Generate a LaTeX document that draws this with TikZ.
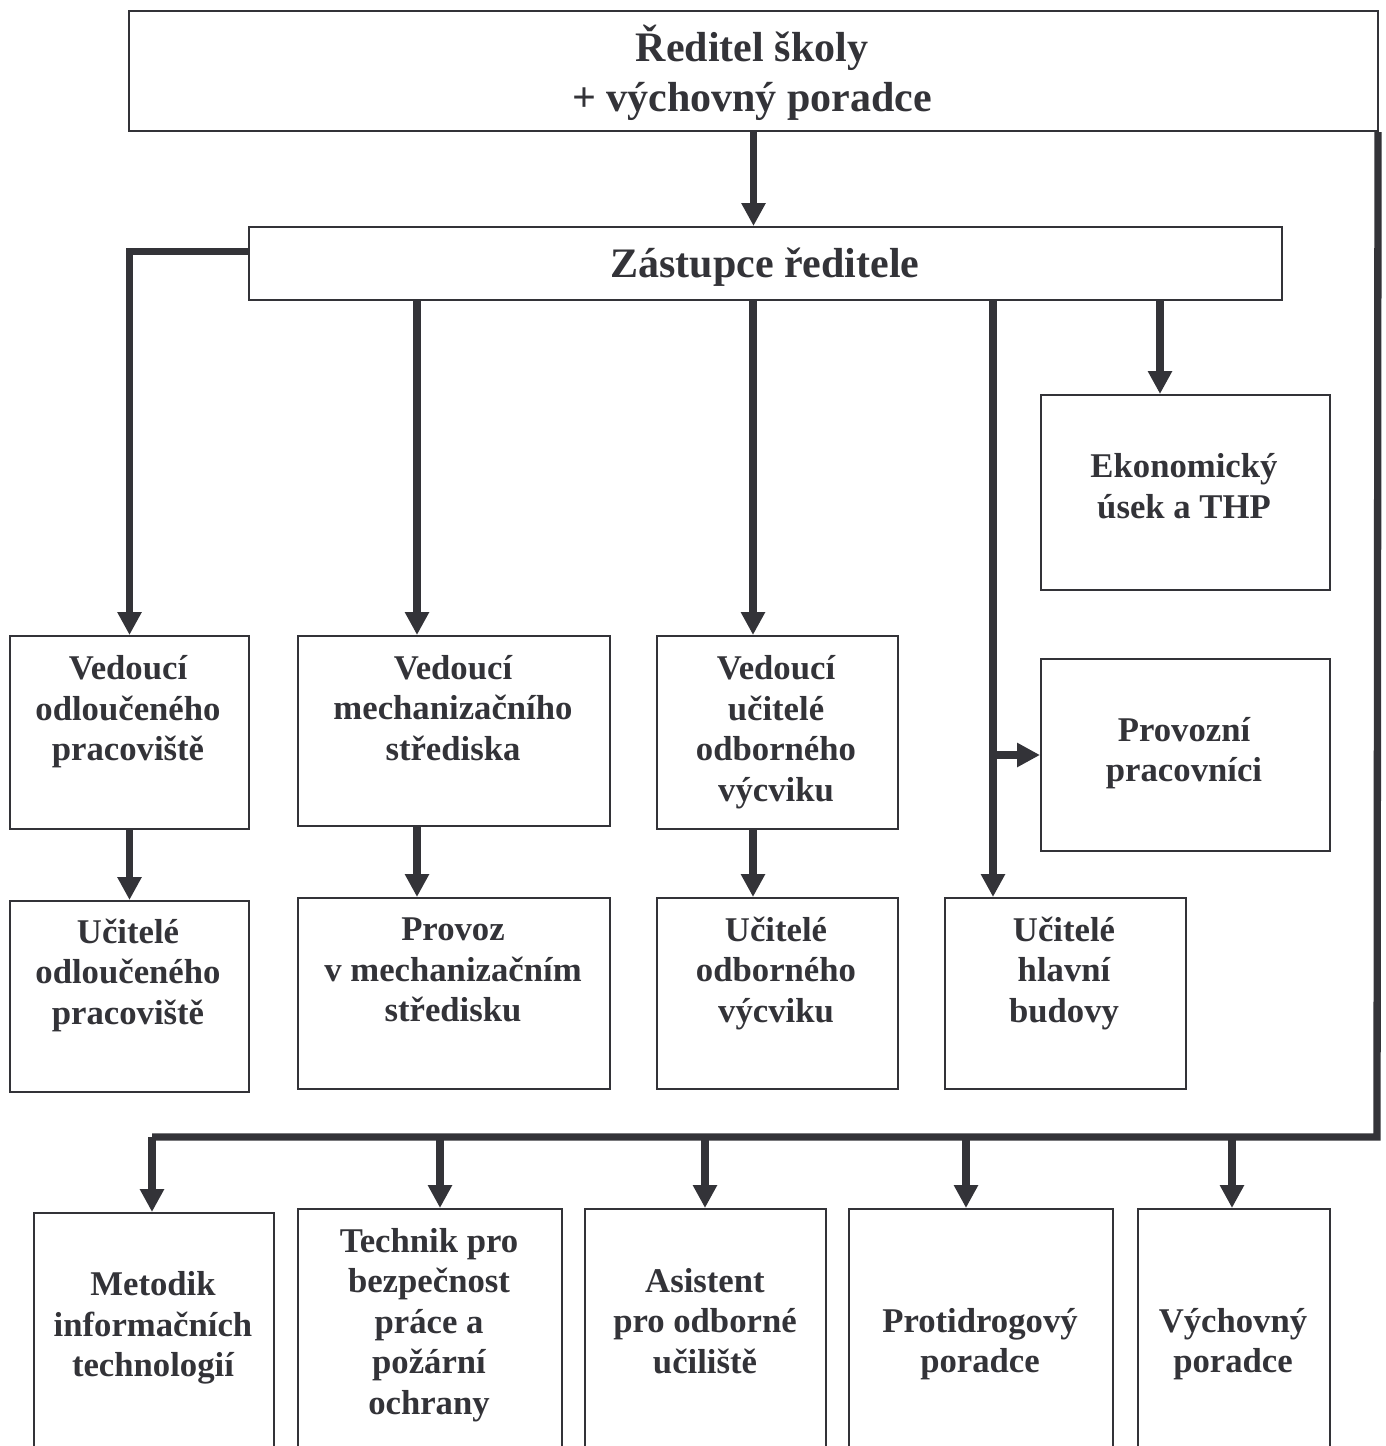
\documentclass[tikz,border=0pt]{standalone}
\usepackage{fontspec}
\setmainfont{Liberation Serif}
\usetikzlibrary{arrows.meta}
\definecolor{ink}{RGB}{51,51,56}
\begin{document}
\begin{tikzpicture}[x=1pt,y=-1pt,
  box/.style={draw=ink, line width=2pt, rectangle, inner sep=0pt, anchor=north west},
  txt/.style={text=ink, align=center, inner sep=0pt,
    font=\fontsize{34.7}{40.5}\selectfont\bfseries},
  head/.style={txt, font=\fontsize{42}{50}\selectfont\bfseries},
  link/.style={draw=ink, line width=7.3pt},
  arr/.style={link, -{Triangle[width=23pt,length=23pt]}}]
\useasboundingbox (0,0) rectangle (1386,1446);
\clip (0,0) rectangle (1386,1446);

% boxes
\node[box, minimum width=1249pt, minimum height=120pt] (top)  at (128,10)  {};
\node[box, minimum width=1033pt, minimum height=73pt]  (zast) at (248,226) {};
\node[box, minimum width=239pt, minimum height=193pt]  (v1)   at (9,635)   {};
\node[box, minimum width=312pt, minimum height=190pt]  (v2)   at (297,635) {};
\node[box, minimum width=241pt, minimum height=193pt]  (v3)   at (656,635) {};
\node[box, minimum width=289pt, minimum height=195pt]  (eko)  at (1040,394) {};
\node[box, minimum width=289pt, minimum height=192pt]  (prov) at (1040,658) {};
\node[box, minimum width=239pt, minimum height=191pt]  (u1)   at (9,900)   {};
\node[box, minimum width=312pt, minimum height=191pt]  (u2)   at (297,897) {};
\node[box, minimum width=241pt, minimum height=191pt]  (u3)   at (656,897) {};
\node[box, minimum width=241pt, minimum height=191pt]  (u4)   at (944,897) {};
\node[box, minimum width=240pt, minimum height=260pt]  (b1)   at (33,1212) {};
\node[box, minimum width=264pt, minimum height=260pt]  (b2)   at (297,1208) {};
\node[box, minimum width=241pt, minimum height=260pt]  (b3)   at (584,1208) {};
\node[box, minimum width=264pt, minimum height=260pt]  (b4)   at (848,1208) {};
\node[box, minimum width=192pt, minimum height=260pt]  (b5)   at (1137,1208) {};

% texts
\node[head] (ttop)  at (752,73)  {Ředitel školy\\+ výchovný poradce};
\node[head] (tzast) at (765,267) {Zástupce ředitele};
\node[txt] (tv1)  at (128,712) {Vedoucí\\odloučeného\\pracoviště};
\node[txt] (tv2)  at (453,708) {Vedoucí\\mechanizačního\\střediska};
\node[txt] (tv3)  at (776,732) {Vedoucí\\učitelé\\odborného\\výcviku};
\node[txt] (teko) at (1184,486) {Ekonomický\\úsek a THP};
\node[txt] (tprov) at (1184,753) {Provozní\\pracovníci};
\node[txt] (tu1)  at (128,975) {Učitelé\\odloučeného\\pracoviště};
\node[txt] (tu2)  at (453,970) {Provoz\\v mechanizačním\\středisku};
\node[txt] (tu3)  at (776,973) {Učitelé\\odborného\\výcviku};
\node[txt] (tu4)  at (1064,973) {Učitelé\\hlavní\\budovy};
\node[txt] (tb1)  at (153,1328) {Metodik\\informačních\\technologií};
\node[txt] (tb2)  at (429,1325) {Technik pro\\bezpečnost\\práce a\\požární\\ochrany};
\node[txt] (tb3)  at (705,1321) {Asistent\\pro odborné\\učiliště};
\node[txt] (tb4)  at (980,1344) {Protidrogový\\poradce};
\node[txt] (tb5)  at (1233,1344) {Výchovný\\poradce};

% column positions of the vertical connectors
\coordinate (x2) at (417,0);
\coordinate (x3) at (753,0);
\coordinate (x4) at (993,0);
\coordinate (x5) at (1160,0);
% bus along the bottom
\coordinate (rc) at (1377,1137);
\coordinate (lc) at (152,1137);
\coordinate (j2) at (440,1137);
\coordinate (j3) at (705,1137);
\coordinate (j4) at (966,1137);
\coordinate (j5) at (1232,1137);

% connectors
\draw[arr] (top.south) -- (top.south |- zast.north);
\draw[arr] ([yshift=12pt]zast.west) -| (v1.north);
\draw[arr] (x2 |- zast.south) -- (x2 |- v2.north);
\draw[arr] (x3 |- zast.south) -- (x3 |- v3.north);
\draw[arr] (x4 |- zast.south) -- (x4 |- u4.north);
\draw[arr] (x4 |- prov.west) -- (prov.west);
\draw[arr] (x5 |- zast.south) -- (x5 |- eko.north);
\draw[arr] (v1.south) -- (u1.north);
\draw[arr] (x2 |- v2.south) -- (x2 |- u2.north);
\draw[arr] (x3 |- v3.south) -- (x3 |- u3.north);

\draw[link, line join=miter] ([xshift=-1pt]top.south east) -- (rc) -- (lc);
\draw[arr] ([xshift=-3.6pt]lc) ++(3.6pt,0) -- (lc |- b1.north);
\draw[arr] (j2) -- (j2 |- b2.north);
\draw[arr] (j3) -- (j3 |- b3.north);
\draw[arr] (j4) -- (j4 |- b4.north);
\draw[arr] (j5) -- (j5 |- b5.north);
\end{tikzpicture}
\end{document}
